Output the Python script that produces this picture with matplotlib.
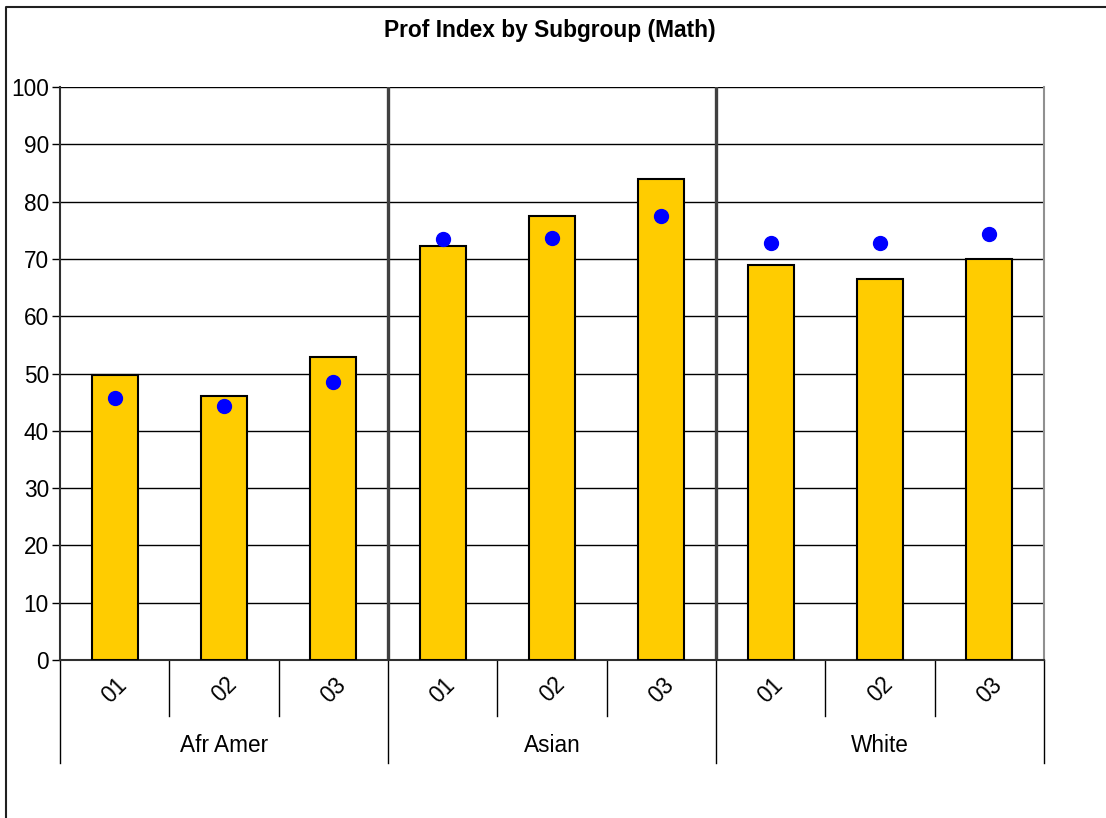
import matplotlib.pyplot as plt
import matplotlib.transforms as mtransforms
from matplotlib.lines import Line2D

plt.rcParams['font.family'] = ['Liberation Sans', 'DejaVu Sans']

groups = ['Afr Amer', 'Asian', 'White']
years = ['01', '02', '03']
bar_values = [49.8, 46.0, 52.9, 72.3, 77.5, 83.9, 68.9, 66.5, 69.9]
dot_values = [45.7, 44.3, 48.5, 73.4, 73.7, 77.5, 72.7, 72.7, 74.4]

fig = plt.figure(figsize=(11.06, 8.18), dpi=100)
# chart frame: only left and top edges are inside the picture
fig.lines.append(Line2D([5.5 / 1106, 5.5 / 1106, 1.0], [0.0, 1 - 6.5 / 818, 1 - 6.5 / 818],
                        transform=fig.transFigure, color='#202020', linewidth=1.5))
ax = fig.add_axes([60 / 1106, 1 - 660 / 818, 984 / 1106, 573 / 818])

x = list(range(len(bar_values)))
ax.bar(x, bar_values, width=0.42, color='#FFCC00', edgecolor='black', linewidth=1.5, zorder=3)
ax.plot(x, dot_values, 'o', color='#0000FF', markersize=10, zorder=4)

ax.set_xlim(-0.5, len(x) - 0.5)
ax.set_ylim(0, 100)
ax.set_yticks(range(0, 101, 10))
ax.tick_params(axis='y', labelsize=16.3, length=6, width=1, pad=2)
ax.yaxis.grid(True, color='black', linewidth=1)
ax.set_axisbelow(True)
ax.set_xticks([])

ax.spines['top'].set_visible(False)
ax.spines['right'].set_color('#909090')
ax.spines['right'].set_linewidth(1.5)
ax.spines['left'].set_linewidth(1.5)
ax.spines['bottom'].set_linewidth(1.5)
ax.spines['left'].set_color('#303030')
ax.spines['bottom'].set_color('#303030')

# group separators inside the plot
n = len(years)
for g in range(1, len(groups)):
    ax.axvline(g * n - 0.5, color='#404040', linewidth=2.4, zorder=2)

# two-level category axis below the plot
trans = mtransforms.blended_transform_factory(ax.transData, ax.transAxes)
for i in range(len(x) + 1):
    low = -103 / 573 if i % n == 0 else -56 / 573
    ax.plot([i - 0.5, i - 0.5], [0, low], color='black', linewidth=1, transform=trans, clip_on=False)
for i, xi in enumerate(x):
    ax.text(xi, -30 / 573, years[i % n], transform=trans, rotation=45, ha='center', va='center',
            fontsize=16.3)
for g, name in enumerate(groups):
    ax.text(g * n + (n - 1) / 2, -85 / 573, name, transform=trans, ha='center', va='center',
            fontsize=16.3)

fig.text(550 / 1106, 1 - 30 / 818, 'Prof Index by Subgroup (Math)', ha='center', va='center',
         fontsize=16.4, fontweight='bold')

fig.savefig('out.png', dpi=100)
